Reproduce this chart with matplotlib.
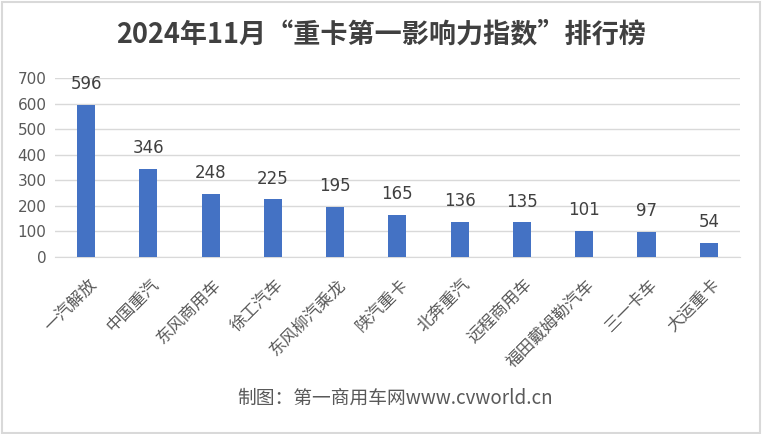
import matplotlib
matplotlib.use("Agg")
import matplotlib.pyplot as plt
from matplotlib.patches import Rectangle
from matplotlib.transforms import ScaledTranslation

plt.rcParams['font.family'] = ['Noto Sans CJK SC', 'DejaVu Sans']

categories = ["一汽解放", "中国重汽", "东风商用车", "徐工汽车", "东风柳汽乘龙", "陕汽重卡",
              "北奔重汽", "远程商用车", "福田戴姆勒汽车", "三一卡车", "大运重卡"]
values = [596, 346, 248, 225, 195, 165, 136, 135, 101, 97, 54]
yticks = [0, 100, 200, 300, 400, 500, 600, 700]
title = "2024年11月“重卡第一影响力指数”排行榜"
source = "制图：第一商用车网www.cvworld.cn"

fig = plt.figure(figsize=(7.62, 4.34), dpi=100)
fig.patches.append(Rectangle((0.002, 0.003), 0.995, 0.993, transform=fig.transFigure,
                             fill=False, edgecolor="#d9d9d9", linewidth=1.5))
ax = fig.add_axes([0.072, 0.408, 0.899, 0.412])
x = range(len(categories))
bars = ax.bar(x, values, width=0.29, color="#4472c4", zorder=3)
for xi, v in zip(x, values):
    ax.annotate(str(v), (xi, v), xytext=(0, 8.5), textcoords="offset points",
                ha="center", va="bottom", fontsize=12, color="#404040",
                family=["DejaVu Sans"])
ax.set_xlim(-0.5, len(categories) - 0.5)
ax.set_ylim(0, 700)
ax.set_yticks(yticks)
ax.set_yticklabels([str(t) for t in yticks], fontsize=11, color="#595959", family=["DejaVu Sans"])
ax.grid(axis="y", color="#d9d9d9", linewidth=1, zorder=0)
for s in ["top", "right", "left"]:
    ax.spines[s].set_visible(False)
ax.spines["bottom"].set_color("#d9d9d9")
ax.tick_params(axis="y", length=0, pad=6)
ax.tick_params(axis="x", length=0, pad=14)
ax.set_xticks(list(x))
ax.set_xticklabels(categories, rotation=45, ha="right", rotation_mode="anchor",
                   fontsize=12, color="#595959")
offset = ScaledTranslation(1.5 / 72, 0, fig.dpi_scale_trans)
for lbl in ax.get_xticklabels():
    lbl.set_transform(lbl.get_transform() + offset)
fig.text(0.5, 0.92, title, ha="center", va="center", fontsize=19.5, fontweight="bold",
         color="#404040")
fig.text(0.518, 0.083, source, ha="center", va="center", fontsize=13.5, color="#595959")
fig.savefig("out.png", dpi=100)
